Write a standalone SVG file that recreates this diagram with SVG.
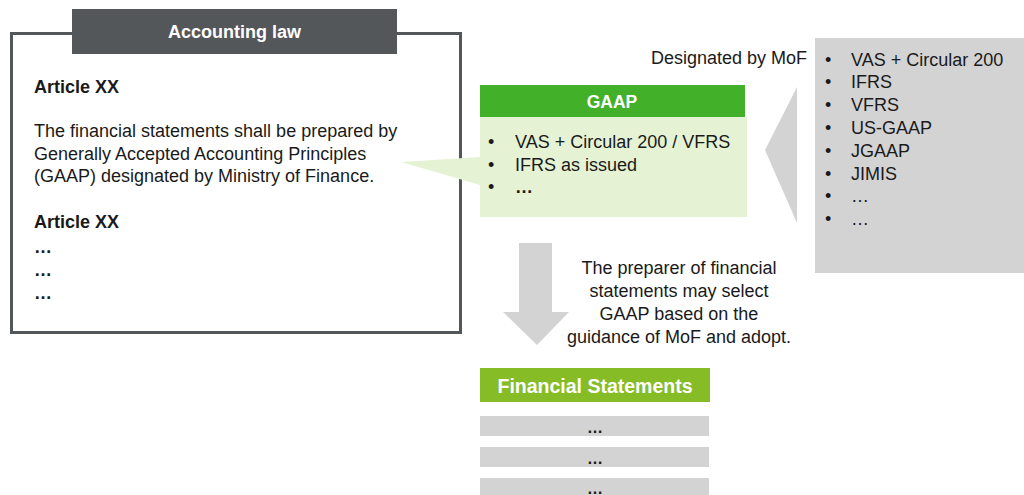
<svg xmlns="http://www.w3.org/2000/svg" width="1024" height="495" viewBox="0 0 1024 495">
  <style>
    text { font-family: "Liberation Sans", Arial, sans-serif; fill: #1a1a1a; }
    .body { font-size: 18px; }
    .bold { font-weight: bold; }
    .head { font-weight: bold; fill: #ffffff; text-anchor: middle; }
    .mid { text-anchor: middle; }
    .gray { fill: #d3d3d3; }
  </style>
  <rect width="1024" height="495" fill="#ffffff"/>

  <!-- Accounting law panel -->
  <g id="accounting-law">
    <rect x="11.5" y="33.5" width="449" height="299" fill="#ffffff" stroke="#54575a" stroke-width="3"/>
    <rect x="72" y="9" width="325" height="45" fill="#54575a"/>
    <text class="head" x="234.5" y="38" font-size="18">Accounting law</text>
    <text class="body bold" x="34" y="93">Article XX</text>
    <text class="body" x="34" y="137">The financial statements shall be prepared by</text>
    <text class="body" x="34" y="159.5">Generally Accepted Accounting Principles</text>
    <text class="body" x="34" y="182">(GAAP) designated by Ministry of Finance.</text>
    <text class="body bold" x="34" y="228">Article XX</text>
    <text class="body bold" x="34" y="253">…</text>
    <text class="body bold" x="34" y="276">…</text>
    <text class="body bold" x="34" y="299">…</text>
  </g>

  <!-- GAAP box -->
  <g id="gaap">
    <rect x="480" y="117" width="267" height="100" fill="#e5f3d4"/>
    <rect x="480" y="85" width="265" height="32" fill="#43b02a"/>
    <text class="head" x="612" y="108" font-size="17.5">GAAP</text>
    <text class="body" x="488" y="148">•</text>
    <text class="body" x="515" y="148">VAS + Circular 200 / VFRS</text>
    <text class="body" x="488" y="170.5">•</text>
    <text class="body" x="515" y="170.5">IFRS as issued</text>
    <text class="body" x="488" y="193">•</text>
    <text class="body bold" x="515" y="193">…</text>
  </g>

  <!-- MoF designated list -->
  <g id="mof-list">
    <rect x="815" y="38" width="209" height="235" class="gray"/>
    <text class="body" x="807" y="64" text-anchor="end">Designated by MoF</text>
    <g class="body">
      <text x="825" y="65.5">•</text><text x="851" y="65.5">VAS + Circular 200</text>
      <text x="825" y="88.3">•</text><text x="851" y="88.3">IFRS</text>
      <text x="825" y="111.1">•</text><text x="851" y="111.1">VFRS</text>
      <text x="825" y="133.9">•</text><text x="851" y="133.9">US-GAAP</text>
      <text x="825" y="156.7">•</text><text x="851" y="156.7">JGAAP</text>
      <text x="825" y="179.5">•</text><text x="851" y="179.5">JIMIS</text>
      <text x="825" y="202.3">•</text><text x="851" y="202.3">…</text>
      <text x="825" y="225.1">•</text><text x="851" y="225.1">…</text>
    </g>
  </g>

  <!-- Financial statements -->
  <g id="financial-statements">
    <rect x="480" y="368" width="230" height="34" fill="#86bc25"/>
    <text class="head" x="595" y="393" font-size="19.5">Financial Statements</text>
    <rect x="480" y="416" width="229" height="20" class="gray"/>
    <text class="mid bold" x="595" y="433" font-size="16">…</text>
    <rect x="480" y="447" width="229" height="20" class="gray"/>
    <text class="mid bold" x="595" y="464" font-size="16">…</text>
    <rect x="480" y="478" width="229" height="20" class="gray"/>
    <text class="mid bold" x="595" y="494" font-size="16">…</text>
  </g>

  <!-- Connectors -->
  <g id="connectors">
    <polygon points="401,162 480,157 480,185" fill="#e5f3d4"/>
    <polygon points="797,87 765,150 797,223" class="gray"/>
    <polygon points="519,243 552,243 552,312 569,312 537,345 503,312 519,312" class="gray"/>
    <g class="body mid">
      <text x="679" y="274">The preparer of financial</text>
      <text x="679" y="297">statements may select</text>
      <text x="679" y="320">GAAP based on the</text>
      <text x="679" y="343">guidance of MoF and adopt.</text>
    </g>
  </g>
</svg>
